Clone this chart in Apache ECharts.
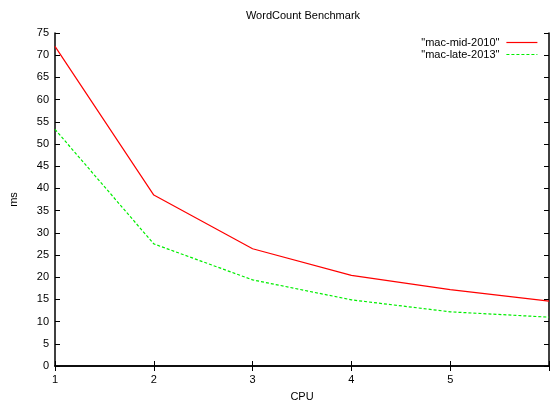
<!DOCTYPE html>
<html>
<head>
<meta charset="utf-8">
<script src="https://cdn.jsdelivr.net/npm/echarts@6/dist/echarts.min.js"></script>
<style>html,body{margin:0;padding:0;background:#fff}#c{width:550px;height:401px}</style>
</head>
<body>
<div id="c"></div>
<script>
const cpus = [1, 2, 3, 4, 5, 6];
const macMid2010 = [72.0, 38.5, 26.4, 20.4, 17.2, 14.6];
const macLate2013 = [53.3, 27.5, 19.4, 14.9, 12.2, 11.0];
const seriesNames = ['"mac-mid-2010"', '"mac-late-2013"'];
const titleText = 'WordCount Benchmark';

const font = 'Liberation Sans, Arial, sans-serif';
const chart = echarts.init(document.getElementById('c'));
const axisCommon = {
  axisLine: { show: true, lineStyle: { color: '#000', width: 1.5 } },
  axisTick: { show: true, inside: true, length: 5, lineStyle: { color: '#000', width: 1 } },
  splitLine: { show: false }
};
chart.setOption({
  animation: false,
  backgroundColor: '#fff',
  grid: { left: 55, right: 1, top: 33, bottom: 35, containLabel: false, outerBoundsMode: 'none' },
  graphic: [{
    type: 'text', x: 303, y: 16,
    style: { text: titleText, font: '11px ' + font, fill: '#000', textAlign: 'center', textVerticalAlign: 'middle' }
  }],
  legend: {
    orient: 'vertical', right: 12, top: 37, align: 'right', padding: 0,
    itemWidth: 31, itemHeight: 10, itemGap: 1,
    itemStyle: { opacity: 0 },
    lineStyle: { width: 1.2 },
    textStyle: { fontSize: 11, fontFamily: font, color: '#000', padding: [0, 2, 0, 0] },
    data: seriesNames
  },
  xAxis: [
    Object.assign({}, axisCommon, {
      type: 'value', min: 1, max: 6, interval: 1, position: 'bottom',
      name: 'CPU', nameLocation: 'middle', nameGap: 25,
      nameTextStyle: { fontSize: 11, fontFamily: font, color: '#000' },
      axisLabel: { fontSize: 11, fontFamily: font, color: '#000', margin: 8,
        formatter: v => (v >= 6 ? '' : String(v)) }
    }),
    Object.assign({}, axisCommon, {
      type: 'value', min: 1, max: 6, interval: 1, position: 'top',
      axisLabel: { show: false }
    })
  ],
  yAxis: [
    Object.assign({}, axisCommon, {
      type: 'value', min: 0, max: 75, interval: 5, position: 'left',
      name: 'ms', nameLocation: 'middle', nameGap: 36, nameRotate: 90,
      nameTextStyle: { fontSize: 11, fontFamily: font, color: '#000' },
      axisLabel: { fontSize: 11, fontFamily: font, color: '#000', margin: 6 }
    }),
    Object.assign({}, axisCommon, {
      type: 'value', min: 0, max: 75, interval: 5, position: 'right',
      axisLabel: { show: false }
    })
  ],
  series: [
    {
      name: seriesNames[0], type: 'line', symbol: 'none',
      lineStyle: { color: '#ff0000', width: 1.2, type: 'solid' },
      itemStyle: { color: '#ff0000' },
      data: cpus.map((c, i) => [c, macMid2010[i]])
    },
    {
      name: seriesNames[1], type: 'line', symbol: 'none',
      lineStyle: { color: '#00ee00', width: 1.2, type: [3, 2] },
      itemStyle: { color: '#00ee00' },
      data: cpus.map((c, i) => [c, macLate2013[i]])
    }
  ]
});
</script>
</body>
</html>
